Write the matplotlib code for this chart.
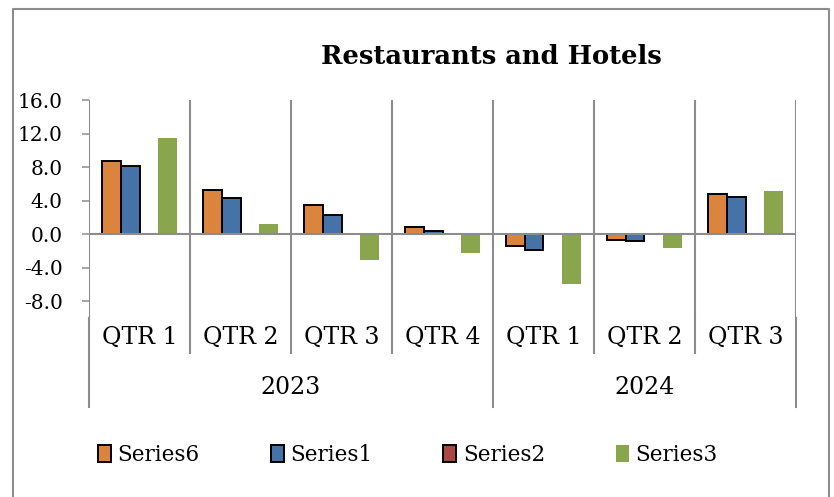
import matplotlib
matplotlib.use('Agg')
import matplotlib.pyplot as plt
import matplotlib.transforms as mtransforms
from matplotlib.lines import Line2D
from matplotlib.patches import Patch
import numpy as np

quarters = ['QTR 1', 'QTR 2', 'QTR 3', 'QTR 4', 'QTR 1', 'QTR 2', 'QTR 3']
years = ['2023', '2024']
year_first = [0, 4]   # index of first quarter in each year
year_last = [3, 6]

series6 = [8.7, 5.3, 3.5, 0.9, -1.4, -0.7, 4.8]
series1 = [8.1, 4.3, 2.3, 0.4, -1.9, -0.8, 4.4]
series2 = [np.nan] * 7   # no visible bars
series3 = [11.5, 1.2, -3.1, -2.3, -6.0, -1.7, 5.1]
names = ['Series6', 'Series1', 'Series2', 'Series3']
colors = ['#DB843D', '#4572A7', '#AA4643', '#89A54E']
yticks = [16, 12, 8, 4, 0, -4, -8]

plt.rcParams['font.family'] = ['DejaVu Serif']
grid_c = '#8c8c8c'

W, H = 834, 497
fig = plt.figure(figsize=(W / 100, H / 100), dpi=100)
ax = fig.add_axes([89 / W, 1 - 318 / H, (796 - 89) / W, (318 - 100) / H])

x = np.arange(len(quarters))
bw = 0.186
data = [series6, series1, series2, series3]
for i, vals in enumerate(data):
    off = (i - 1.5) * bw
    if i == 3:
        ax.bar(x + off, vals, bw, color=colors[i], linewidth=0, zorder=2)
    else:
        ax.bar(x + off, vals, bw, color=colors[i], edgecolor='black',
               linewidth=1.4, zorder=2)

ax.set_xlim(-0.5, len(quarters) - 0.5)
ax.set_ylim(-10, 16)
for s in ax.spines.values():
    s.set_visible(False)

# category gridlines and zero line
for b in np.arange(-0.5, len(quarters), 1.0):
    ax.axvline(b, color=grid_c, lw=1.5, zorder=1)
ax.axhline(0, color=grid_c, lw=1.5, zorder=3)

ax.set_xticks([])
ax.set_yticks(yticks)
ax.set_yticklabels(['%.1f' % v for v in yticks])
ax.tick_params(axis='y', direction='out', length=5, width=1.1, color=grid_c,
               pad=14, labelsize=14.5)

# multi-level category axis below the plot
tr = mtransforms.blended_transform_factory(ax.transData, ax.transAxes)
ah = 318 - 100
q_bottom = -(353 - 318) / ah
y_bottom = -(407 - 318) / ah
year_bounds = [year_first[0] - 0.5] + [l + 0.5 for l in year_last]
for b in np.arange(-0.5, len(quarters), 1.0):
    low = y_bottom if b in year_bounds else q_bottom
    ax.plot([b, b], [0, low], transform=tr, color=grid_c, lw=1.5, clip_on=False)
for i, q in enumerate(quarters):
    ax.text(i, -(337 - 318) / ah, q, transform=tr, ha='center', va='center',
            fontsize=17)
for yr, a, b in zip(years, year_first, year_last):
    ax.text((a + b) / 2, -(388 - 318) / ah, yr, transform=tr, ha='center',
            va='center', fontsize=17)

fig.text(491 / W, 1 - 57 / H, 'Restaurants and Hotels', ha='center',
         va='center', fontsize=18.5, fontweight='bold')

handles = [Patch(facecolor=colors[0], edgecolor='black', linewidth=1.4),
           Patch(facecolor=colors[1], edgecolor='black', linewidth=1.4),
           Patch(facecolor=colors[2], edgecolor='black', linewidth=1.4),
           Patch(facecolor=colors[3], edgecolor='none')]
fig.legend(handles, names, loc='center', bbox_to_anchor=(408 / W, 1 - 455 / H),
           ncol=4, frameon=False, fontsize=15.5, handlelength=0.6,
           handleheight=0.8, handletextpad=0.3, columnspacing=3.3)

# chart border (bottom edge is cut off)
fig.add_artist(Line2D([13 / W, 13 / W, 829 / W, 829 / W],
                      [-0.01, 1 - 9 / H, 1 - 9 / H, -0.01],
                      color=grid_c, lw=1.5, transform=fig.transFigure))

fig.savefig('out.png', dpi=100)
